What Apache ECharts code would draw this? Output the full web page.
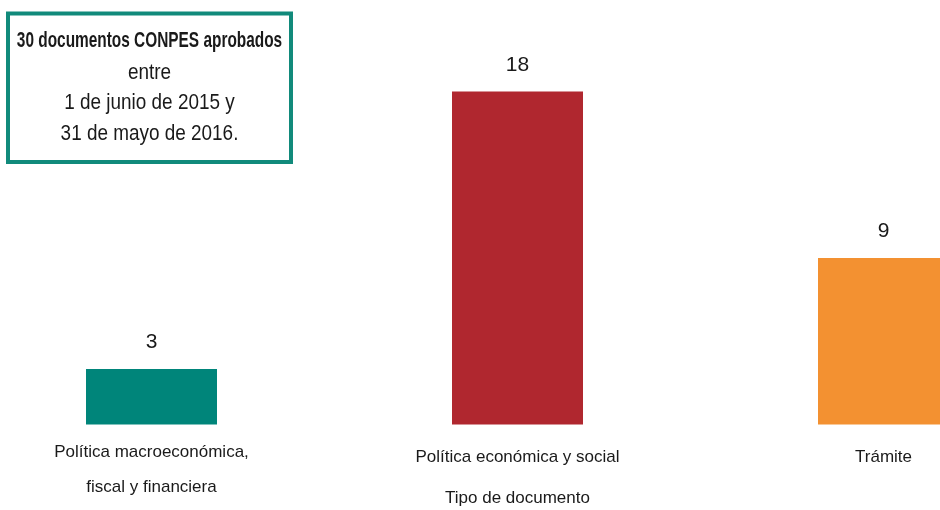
<!DOCTYPE html>
<html>
<head>
<meta charset="utf-8">
<script src="https://cdn.jsdelivr.net/npm/echarts@6/dist/echarts.min.js"></script>
<style>
  html, body { margin: 0; padding: 0; background: #ffffff; }
  #chart { width: 940px; height: 510px; }
</style>
</head>
<body>
<div id="chart"></div>
<script>
// Documentos CONPES aprobados por tipo
const categories = [
  'Política macroeconómica,\nfiscal y financiera',
  'Política económica y social',
  'Trámite'
];
const values = [3, 18, 9];
const barColors = ['#00857A', '#B0272F', '#F39131'];
const axisName = 'Tipo de documento';
const boxLines = [
  '30 documentos CONPES aprobados',
  'entre',
  '1 de junio de 2015 y',
  '31 de mayo de 2016.'
];

const FONT = '"Liberation Sans", Arial, sans-serif';
const TEXT = '#1a1a1a';
const TEAL = '#118A7B';

const chart = echarts.init(document.getElementById('chart'), null, { renderer: 'canvas' });

// Category labels: multi-line entries get their own line spacing
function labelFormatter(value) {
  const parts = value.split('\n');
  if (parts.length === 1) return '{s|' + value + '}';
  return '{f|' + parts[0] + '}\n{g|' + parts[1] + '}';
}

// Note box: condensed text lines centred in a framed rectangle
const boxTextY = [40.5, 73, 103, 134];
const boxTextSize = [22, 22, 22, 22];
const boxTextScale = [0.70, 0.86, 0.86, 0.86];

chart.setOption({
  animation: false,
  backgroundColor: '#ffffff',
  grid: {
    left: -31.5, right: -126.5, top: 54.5, bottom: 85.5,
    containLabel: false,
    outerBoundsMode: 'none'
  },
  xAxis: {
    type: 'category',
    data: categories,
    name: axisName,
    nameLocation: 'middle',
    nameGap: 65,
    nameMoveOverlap: false,
    nameTextStyle: { fontFamily: FONT, fontSize: 17, color: TEXT },
    axisLine: { show: false },
    axisTick: { show: false },
    axisLabel: {
      margin: 17.5,
      interval: 0,
      verticalAlign: 'top',
      formatter: labelFormatter,
      rich: {
        s: { fontFamily: FONT, fontSize: 17, color: TEXT, lineHeight: 31 },
        f: { fontFamily: FONT, fontSize: 17, color: TEXT, lineHeight: 20 },
        g: { fontFamily: FONT, fontSize: 17, color: TEXT, lineHeight: 50 }
      }
    },
    splitLine: { show: false }
  },
  yAxis: {
    type: 'value',
    min: 0,
    max: 20,
    show: false
  },
  series: [{
    type: 'bar',
    barWidth: 131,
    data: values.map((v, i) => ({ value: v, itemStyle: { color: barColors[i] } })),
    label: {
      show: true,
      position: 'top',
      distance: 16,
      fontFamily: FONT,
      fontSize: 21,
      color: TEXT
    }
  }],
  graphic: [
    {
      type: 'rect',
      shape: { x: 8, y: 13.5, width: 283, height: 148.5 },
      style: { fill: '#ffffff', stroke: TEAL, lineWidth: 4 }
    }
  ].concat(boxLines.map((t, i) => ({
    type: 'text',
    x: 149.5,
    y: boxTextY[i],
    scaleX: boxTextScale[i],
    style: {
      text: t,
      textAlign: 'center',
      textVerticalAlign: 'middle',
      fontFamily: FONT,
      fontSize: boxTextSize[i],
      fontWeight: i === 0 ? 'bold' : 'normal',
      fill: TEXT
    }
  })))
});
</script>
</body>
</html>
